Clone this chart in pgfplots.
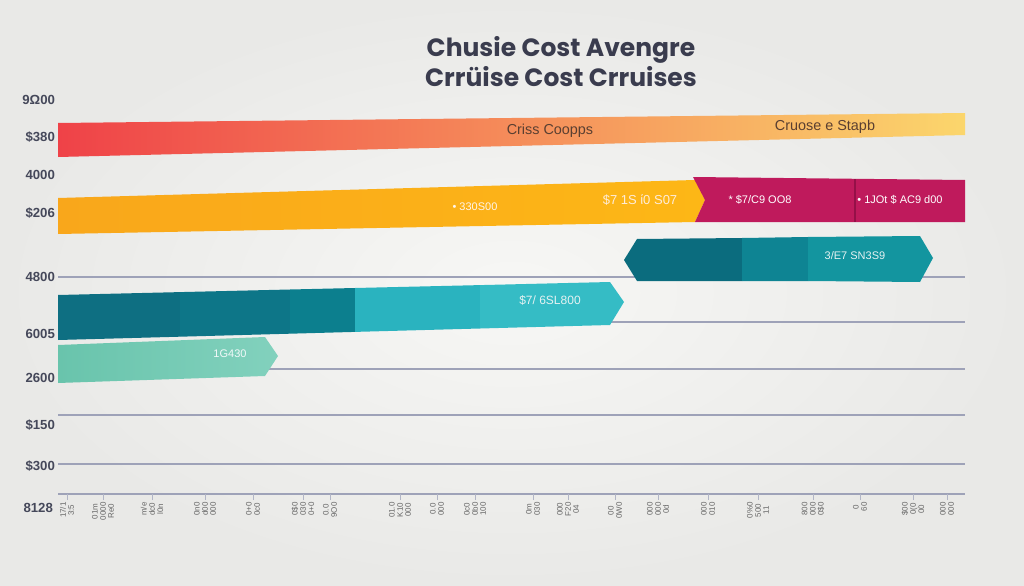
\documentclass[border=0pt]{standalone}
\usepackage{pgfplots}
\pgfplotsset{compat=1.18}
\usepackage{fontspec}
\setmainfont{Liberation Sans}
\newfontfamily\titlefont{Poppins}
\definecolor{bgout}{HTML}{E9E9E7}
\definecolor{bgin}{HTML}{F7F7F5}
\definecolor{gridc}{HTML}{9EA2B8}
\definecolor{labc}{HTML}{45485A}
\definecolor{titc}{HTML}{3A3C4E}
\definecolor{redA}{HTML}{EF4248}
\definecolor{orgA}{HTML}{F79040}
\definecolor{yelA}{HTML}{FBD66C}
\definecolor{orgB}{HTML}{F9A71B}
\definecolor{orgC}{HTML}{FDB716}
\definecolor{magA}{HTML}{BF1A5C}
\definecolor{magD}{HTML}{951048}
\definecolor{tl1}{HTML}{0E6F82}
\definecolor{tl2}{HTML}{0D7688}
\definecolor{tl3}{HTML}{0C7F8E}
\definecolor{tl4}{HTML}{2AB3BF}
\definecolor{tl5}{HTML}{35BCC5}
\definecolor{tu1}{HTML}{0B6C7E}
\definecolor{tu2}{HTML}{0E8493}
\definecolor{tu3}{HTML}{13959F}
\definecolor{mintA}{HTML}{69C4AC}
\definecolor{mintB}{HTML}{82D1BD}
\definecolor{txtbr}{HTML}{5A3F31}
\begin{document}
\begin{tikzpicture}
\begin{axis}[
  scale only axis, width=453.5pt, height=202pt,
  xmin=58, xmax=965, ymin=91, ymax=495,
  clip=false, axis on top,
  axis line style={draw=none},
  xtick pos=bottom, ytick pos=left,
  tick align=outside,
  xtick={67,103,152,205,253,303,330,400,437,475,533,568,615,658,708,758,813,860,913,947},
  xticklabels={{17/1\\3:5},{01m\\0000\\Re0},{m/e\\dc0\\l0n},{0n0\\d00\\000},{0+0\\0c0},{0\$0\\030\\0+0},{0.0\\9O0},{01.0\\K10\\000},{0.0\\000},{0c0\\0b0\\100},{0m\\030},{000\\F20\\04},{00\\0W0},{000\\000\\0d},{000\\010},{0\%0\\500\\11},{800\\000\\0\$0},{0\\60},{\$00\\0(0\\00},{000\\000}},
  xticklabel style={rotate=90, anchor=east, align=center, font=\fontsize{4}{4.1}\selectfont, text=black!60, inner sep=1pt},
  minor x tick num=3,
  major tick length=3pt, minor tick length=2pt,
  x tick style={draw=gridc!80, line width=0.3pt},
  y tick style={draw=none},
  ytick={485,448,410,372,308,251,207,160,119},
  yticklabels={9Ω00,\$380,4000,\$206,4800,6005,2600,\$150,\$300},
  yticklabel style={font=\fontsize{6.6}{8}\selectfont\bfseries, text=labc, xshift=5pt},
]
% background
\addplot[draw=none, inner color=bgin, outer color=bgout] coordinates {(0,0) (1024,0) (1024,585) (0,585)} -- cycle;
% gridlines
\addplot[gridc, line width=0.7pt] coordinates {(58,308) (965,308)};
\addplot[gridc, line width=0.7pt] coordinates {(58,263) (965,263)};
\addplot[gridc, line width=0.7pt] coordinates {(58,216) (965,216)};
\addplot[gridc, line width=0.7pt] coordinates {(58,170) (965,170)};
\addplot[gridc, line width=0.7pt] coordinates {(58,121) (965,121)};
\addplot[gridc, line width=0.9pt] coordinates {(58,91) (965,91)};
% bar 1 gradient
\addplot[draw=none, left color=redA, middle color=orgA, right color=yelA] coordinates {(58,462) (965,472) (965,450) (58,428)} -- cycle;
% bar 2 orange + magenta
\addplot[draw=none, left color=orgB, right color=orgC] coordinates {(58,387) (695,405) (705,385) (695,363) (58,351)} -- cycle;
\addplot[draw=none, fill=magA] coordinates {(693,408) (965,405) (965,363) (695,363) (705,385)} -- cycle;
\addplot[magD, line width=1pt] coordinates {(855,406) (855,363)};
% teal upper right
\addplot[draw=none, fill=tu1] coordinates {(624,325) (637,346) (742,347) (742,304) (637,304)} -- cycle;
\addplot[draw=none, fill=tu2] coordinates {(742,347) (808,348) (808,304) (742,304)} -- cycle;
\addplot[draw=none, fill=tu3] coordinates {(808,348) (920,349) (933,327) (920,303) (808,304)} -- cycle;
% teal middle
\addplot[draw=none, fill=tl1] coordinates {(58,290) (180,292.9) (180,248.3) (58,245)} -- cycle;
\addplot[draw=none, fill=tl2] coordinates {(180,292.9) (290,295.5) (290,251.3) (180,248.3)} -- cycle;
\addplot[draw=none, fill=tl3] coordinates {(290,295.5) (355,297.0) (355,253.1) (290,251.3)} -- cycle;
\addplot[draw=none, fill=tl4] coordinates {(355,297.0) (480,299.9) (480,256.5) (355,253.1)} -- cycle;
\addplot[draw=none, fill=tl5] coordinates {(480,299.9) (610,303) (624,283) (610,260) (480,256.5)} -- cycle;
% mint
\addplot[draw=none, left color=mintA, right color=mintB] coordinates {(58,240) (265,248) (278,229) (265,209) (58,202)} -- cycle;
% texts
\node[font=\fontsize{7.2}{8}\selectfont, text=txtbr] at (axis cs:550,454) {Criss Coopps};
\node[font=\fontsize{7.2}{8}\selectfont, text=txtbr] at (axis cs:825,458) {Cruose e Stapb};
\node[font=\fontsize{5.5}{6}\selectfont, text=white!92!orange] at (axis cs:475,378) {• 330S00};
\node[font=\fontsize{6.5}{7}\selectfont, text=white!85!orange] at (axis cs:640,385) {\$7 1S ί0 S07};
\node[font=\fontsize{5.5}{6}\selectfont, text=white] at (axis cs:760,385) {* \$7/C9 ΟΟ8};
\node[font=\fontsize{5.5}{6}\selectfont, text=white] at (axis cs:900,385) {• 1JOt \$ ΑC9 d00};
\node[font=\fontsize{5.5}{6}\selectfont, text=white!90!teal] at (axis cs:855,329) {3/E7 SN3S9};
\node[font=\fontsize{6}{7}\selectfont, text=white!90!teal] at (axis cs:550,285) {\$7/ 6SL800};
\node[font=\fontsize{5.5}{6}\selectfont, text=white!95!teal] at (axis cs:230,231) {1G430};
\node[font=\fontsize{6.6}{8}\selectfont\bfseries, text=labc, anchor=east] at (axis cs:60,77) {8128};
\node[font=\titlefont\bfseries\fontsize{12.5}{15}\selectfont, text=titc, align=center] at (axis cs:561,523) {Chusie Cost Avengre\\Crrüise Cost Crruises};
\end{axis}
\end{tikzpicture}
\end{document}
